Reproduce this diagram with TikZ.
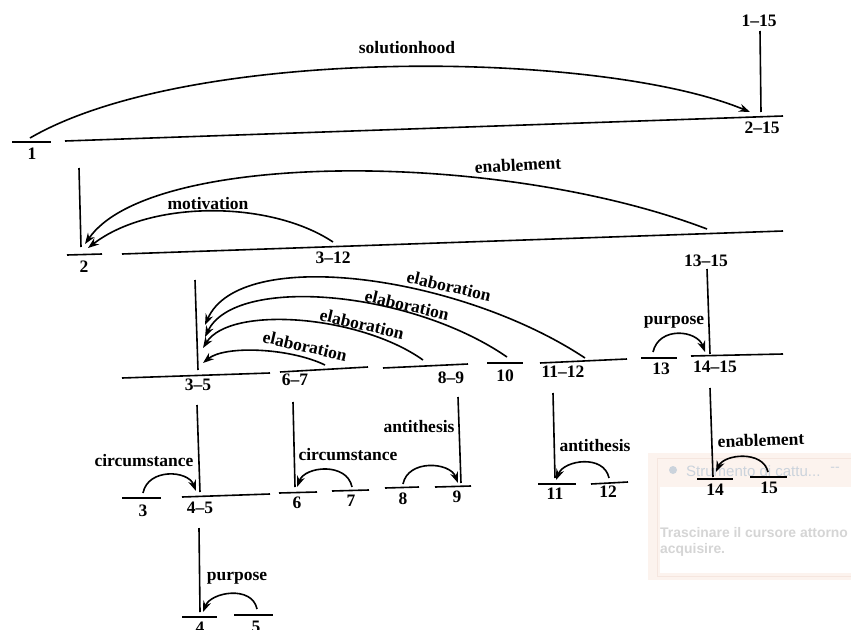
\documentclass[tikz,border=0pt]{standalone}
\usepackage{fontspec}
\setmainfont{Liberation Serif}
\newfontfamily\popfont{Liberation Sans}
\usetikzlibrary{arrows.meta}
\definecolor{popbg}{HTML}{FCF3EE}
\definecolor{popedge}{HTML}{F5E6DF}
\definecolor{poptitle}{HTML}{CBD3DC}
\definecolor{poptext}{HTML}{D5D5D5}
\tikzset{
  seg/.style={line width=1.6pt},
  stem/.style={line width=1.6pt},
  rel/.style={line width=1.6pt,-{Stealth[length=11pt,width=8pt]}},
  num/.style={inner sep=0pt,font=\bfseries\fontsize{17.5}{19}\selectfont},
  lab/.style={inner sep=0pt,font=\bfseries\fontsize{17.5}{19}\selectfont},
}
\begin{document}
\begin{tikzpicture}[x=1pt,y=-1pt]
\useasboundingbox (0,0) rectangle (851,629);
\fill[white] (0,0) rectangle (851,629);
% ---------- screen-capture popup (behind) ----------
\fill[popbg] (648,453) rectangle (851,580);
\draw[popedge,line width=0.8pt] (657,458) rectangle (852,576);
\fill[white] (660,487) rectangle (851,573);
\node[circle,fill=poptitle,inner sep=0pt,minimum size=8pt] (popicon) at (673,470) {};
\node[anchor=west,inner sep=0pt,text=poptitle,font=\popfont\fontsize{15}{17}\selectfont] (poptitle) at (686,471) {Strumento di cattu...};
\node[inner sep=0pt,text=poptitle,font=\popfont\fontsize{14}{16}\selectfont] (popmin) at (835,469) {--};
\node[anchor=west,inner sep=0pt,text=poptext,font=\popfont\bfseries\fontsize{13.9}{15}\selectfont] (poptxt1) at (660,533) {Trascinare il cursore attorno};
\node[anchor=west,inner sep=0pt,text=poptext,font=\popfont\bfseries\fontsize{13.9}{15}\selectfont] (poptxt2) at (660,550) {acquisire.};

% ---------- level 0 ----------
\node[num] (t115) at (759,21) {1--15};
\coordinate (v1a) at (760,31); \coordinate (v1b) at (761,112);
\draw[stem] (v1a) -- (v1b);
\coordinate (s1a) at (12,142); \coordinate (s1b) at (51,142);
\draw[seg] (s1a) -- (s1b);
\node[num] (t1) at (32,154) {1};
\coordinate (s215a) at (65,141); \coordinate (s215b) at (783,116);
\draw[seg] (s215a) -- (s215b);
\node[num] (t215) at (762,128) {2--15};
\coordinate (solS) at (30,138); \coordinate (solT) at (750,112);
\draw[rel] (solS) .. controls (190,45) and (600,50) .. (solT);
\node[lab] (lsol) at (407,48) {solutionhood};

% ---------- level 1 ----------
\coordinate (v2a) at (79,168); \coordinate (v2b) at (81,247);
\draw[stem] (v2a) -- (v2b);
\coordinate (s2a) at (67,255); \coordinate (s2b) at (102,254);
\draw[seg] (s2a) -- (s2b);
\node[num] (t2) at (84,267) {2};
\coordinate (s315a) at (122,254); \coordinate (s315b) at (783,231);
\draw[seg] (s315a) -- (s315b);
\node[num] (t312) at (333,258) {3--12};
\coordinate (motS) at (333,242); \coordinate (motT) at (88,248);
\draw[rel] (motS) .. controls (270,200) and (150,200) .. (motT);
\node[lab] (lmot) at (208,204) {motivation};
\coordinate (enS) at (707,229); \coordinate (enT) at (85,244);
\draw[rel] (enS) .. controls (500,150) and (150,150) .. (enT);
\node[lab,rotate=3] (len) at (518,165) {enablement};
\node[num] (t1315) at (706,261) {13--15};
\coordinate (v13a) at (707,269); \coordinate (v13b) at (710,354);
\draw[stem] (v13a) -- (v13b);

% ---------- level 2 ----------
\coordinate (v35a) at (195,280); \coordinate (v35b) at (198,370);
\draw[stem] (v35a) -- (v35b);
\coordinate (s35a) at (122,378); \coordinate (s35b) at (270,373);
\draw[seg] (s35a) -- (s35b);
\node[num] (t35) at (198,385) {3--5};
\coordinate (s67a) at (280,372); \coordinate (s67b) at (368,367);
\draw[seg] (s67a) -- (s67b);
\node[num] (t67) at (295,380) {6--7};
\coordinate (s89a) at (383,368); \coordinate (s89b) at (468,364);
\draw[seg] (s89a) -- (s89b);
\node[num] (t89) at (451,378) {8--9};
\coordinate (s10a) at (487,363); \coordinate (s10b) at (523,363);
\draw[seg] (s10a) -- (s10b);
\node[num] (t10) at (505,376) {10};
\coordinate (s1112a) at (540,363); \coordinate (s1112b) at (627,359);
\draw[seg] (s1112a) -- (s1112b);
\node[num] (t1112) at (563,372) {11--12};
\coordinate (s13a) at (641,358); \coordinate (s13b) at (677,358);
\draw[seg] (s13a) -- (s13b);
\node[num] (t13) at (661,369) {13};
\coordinate (s1415a) at (691,356); \coordinate (s1415b) at (783,354);
\draw[seg] (s1415a) -- (s1415b);
\node[num] (t1415) at (715,367) {14--15};
\coordinate (purS) at (653,352); \coordinate (purT) at (705,352);
\draw[rel] (purS) .. controls +(6,-26) and +(-8,-22) .. (purT);
\node[lab] (lpur1) at (674,322) {purpose};
% elaborations
\coordinate (e1S) at (325,365); \coordinate (e1T) at (203,363);
\draw[rel] (e1S) .. controls (290,348) and (225,345) .. (e1T);
\node[lab,rotate=-13] (le1) at (305,346) {elaboration};
\coordinate (e2S) at (423,360); \coordinate (e2T) at (203,348);
\draw[rel] (e2S) .. controls (360,315) and (230,305) .. (e2T);
\node[lab,rotate=-13] (le2) at (362,324) {elaboration};
\coordinate (e3S) at (507,357); \coordinate (e3T) at (205,337);
\draw[rel] (e3S) .. controls (410,290) and (235,275) .. (e3T);
\node[lab,rotate=-13] (le3) at (407,305) {elaboration};
\coordinate (e4S) at (585,358); \coordinate (e4T) at (205,325);
\draw[rel] (e4S) .. controls (460,275) and (240,245) .. (e4T);
\node[lab,rotate=-13] (le4) at (449,286) {elaboration};

% ---------- level 3 ----------
\coordinate (v45a) at (197,405); \coordinate (v45b) at (200,492);
\draw[stem] (v45a) -- (v45b);
\coordinate (s3a) at (122,498); \coordinate (s3b) at (161,498);
\draw[seg] (s3a) -- (s3b);
\node[num] (t3) at (143,511) {3};
\coordinate (s45a) at (182,497); \coordinate (s45b) at (270,494);
\draw[seg] (s45a) -- (s45b);
\node[num] (t45) at (200,508) {4--5};
\coordinate (c1S) at (143,493); \coordinate (c1T) at (196,491);
\draw[rel] (c1S) .. controls +(5,-25) and +(-8,-21) .. (c1T);
\node[lab] (lc1) at (144,461) {circumstance};

\coordinate (v6a) at (293,402); \coordinate (v6b) at (295,487);
\draw[stem] (v6a) -- (v6b);
\coordinate (s6a) at (279,493); \coordinate (s6b) at (317,492);
\draw[seg] (s6a) -- (s6b);
\node[num] (t6) at (297,503) {6};
\coordinate (s7a) at (332,491); \coordinate (s7b) at (369,490);
\draw[seg] (s7a) -- (s7b);
\node[num] (t7) at (351,501) {7};
\coordinate (c2S) at (352,487); \coordinate (c2T) at (297,487);
\draw[rel] (c2S) .. controls +(-5,-25) and +(8,-21) .. (c2T);
\node[lab] (lc2) at (348,455) {circumstance};

\coordinate (v9a) at (458,397); \coordinate (v9b) at (461,483);
\draw[stem] (v9a) -- (v9b);
\coordinate (s8a) at (385,488); \coordinate (s8b) at (419,487);
\draw[seg] (s8a) -- (s8b);
\node[num] (t8) at (403,499) {8};
\coordinate (s9a) at (435,487); \coordinate (s9b) at (471,486);
\draw[seg] (s9a) -- (s9b);
\node[num] (t9) at (457,497) {9};
\coordinate (a1S) at (403,484); \coordinate (a1T) at (458,483);
\draw[rel] (a1S) .. controls +(5,-25) and +(-8,-21) .. (a1T);
\node[lab] (la1) at (419,427) {antithesis};

\coordinate (v11a) at (553,393); \coordinate (v11b) at (555,478);
\draw[stem] (v11a) -- (v11b);
\coordinate (s11a) at (538,484); \coordinate (s11b) at (576,484);
\draw[seg] (s11a) -- (s11b);
\node[num] (t11) at (555,494) {11};
\coordinate (s12a) at (591,484); \coordinate (s12b) at (628,482);
\draw[seg] (s12a) -- (s12b);
\node[num] (t12) at (608,492) {12};
\coordinate (a2S) at (609,478); \coordinate (a2T) at (556,480);
\draw[rel] (a2S) .. controls +(-5,-24) and +(8,-20) .. (a2T);
\node[lab] (la2) at (595,446) {antithesis};

\coordinate (v14a) at (710,388); \coordinate (v14b) at (713,477);
\draw[stem] (v14a) -- (v14b);
\coordinate (s14a) at (697,479); \coordinate (s14b) at (733,479);
\draw[seg] (s14a) -- (s14b);
\node[num] (t14) at (715,490) {14};
\coordinate (s15a) at (750,477); \coordinate (s15b) at (787,477);
\draw[seg] (s15a) -- (s15b);
\node[num] (t15) at (769,488) {15};
\coordinate (en2S) at (768,472); \coordinate (en2T) at (716,472);
\draw[rel] (en2S) .. controls +(-5,-22) and +(8,-18) .. (en2T);
\node[lab,rotate=2] (len2) at (761,440) {enablement};

% ---------- level 4 ----------
\coordinate (v4a) at (199,528); \coordinate (v4b) at (200,612);
\draw[stem] (v4a) -- (v4b);
\coordinate (s4a) at (182,617); \coordinate (s4b) at (217,617);
\draw[seg] (s4a) -- (s4b);
\node[num] (t4) at (200,628) {4};
\coordinate (s5a) at (234,615); \coordinate (s5b) at (273,615);
\draw[seg] (s5a) -- (s5b);
\node[num] (t5) at (256,627) {5};
\coordinate (p2S) at (257,609); \coordinate (p2T) at (203,612);
\draw[rel] (p2S) .. controls +(-5,-24) and +(8,-20) .. (p2T);
\node[lab] (lp2) at (237,578) {purpose};
\end{tikzpicture}
\end{document}
